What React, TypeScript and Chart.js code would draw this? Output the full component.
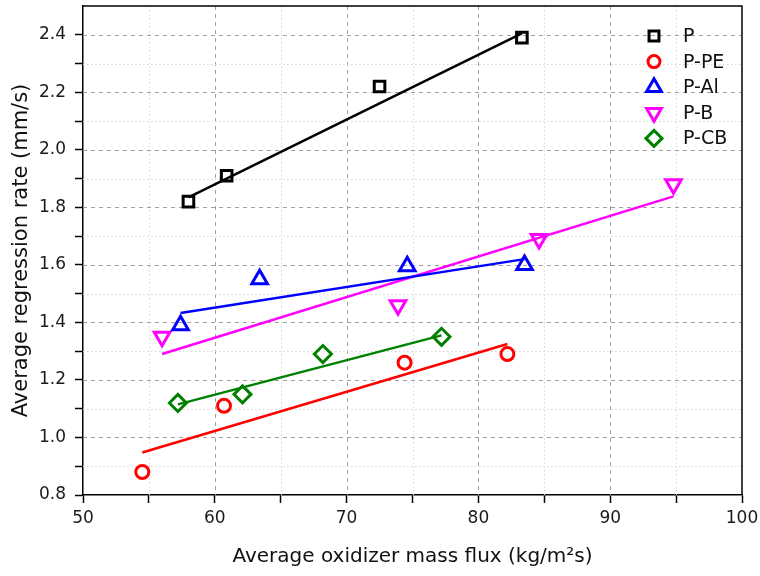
import React, { useEffect, useRef } from 'react';
import { Chart, registerables } from 'chart.js';
import { drawPoint } from 'chart.js/helpers';

Chart.register(...registerables);

// ---- Data ----
const seriesNames = ['P', 'P-PE', 'P-Al', 'P-B', 'P-CB'];
const seriesColors = ['#000000', '#ff0000', '#0000ff', '#ff00ff', '#008000'];

const pFlux = [58.0, 60.9, 72.5, 83.3];
const pRate = [1.82, 1.91, 2.22, 2.39];
const pFitFlux = [58.0, 83.3];
const pFitRate = [1.835, 2.405];

const peFlux = [54.5, 60.7, 74.4, 82.2];
const peRate = [0.88, 1.11, 1.26, 1.29];
const peFitFlux = [54.5, 82.2];
const peFitRate = [0.948, 1.325];

const alFlux = [57.4, 63.4, 74.6, 83.5];
const alRate = [1.39, 1.55, 1.595, 1.6];
const alFitFlux = [57.4, 83.5];
const alFitRate = [1.433, 1.62];

const bFlux = [56.0, 73.9, 84.6, 94.8];
const bRate = [1.35, 1.46, 1.69, 1.88];
const bFitFlux = [56.0, 94.8];
const bFitRate = [1.29, 1.838];

const cbFlux = [57.2, 62.1, 68.2, 77.2];
const cbRate = [1.12, 1.15, 1.29, 1.35];
const cbFitFlux = [57.2, 77.2];
const cbFitRate = [1.115, 1.355];

const X_MIN = 50;
const X_MAX = 100;
const Y_MIN = 0.8;
const Y_MAX = 2.5;

const xTitle = 'Average oxidizer mass flux (kg/m\u00B2s)';
const yTitle = 'Average regression rate (mm/s)';

const FONT = '"DejaVu Sans", "Liberation Sans", Arial, sans-serif';

const pts = (xs: number[], ys: number[]) => xs.map((x, i) => ({ x, y: ys[i] }));

const pointStyles: any[] = ['rect', 'circle', 'triangle', 'triangle', 'rectRot'];
const pointRotations = [0, 0, 0, 180, 0];
const pointRadii = [7.5, 6.5, 9, 9, 8.5];

const gridPlugin = {
  id: 'customGrid',
  beforeDatasetsDraw(chart: any) {
    const { ctx, chartArea: a, scales } = chart;
    const x = scales.x;
    const y = scales.y;
    ctx.save();
    ctx.lineWidth = 1;
    x.ticks.forEach((t: any) => {
      const v = t.value;
      if (v <= X_MIN + 1e-6 || v >= X_MAX - 1e-6) return;
      const major = Math.round(v) % 10 === 0;
      ctx.strokeStyle = major ? '#a0a0a0' : '#d4d4d4';
      ctx.setLineDash(major ? [4, 4] : [1.5, 2.5]);
      const px = Math.round(x.getPixelForValue(v)) + 0.5;
      ctx.beginPath();
      ctx.moveTo(px, a.top);
      ctx.lineTo(px, a.bottom);
      ctx.stroke();
    });
    y.ticks.forEach((t: any) => {
      const v = t.value;
      if (v <= Y_MIN + 1e-6 || v >= Y_MAX - 1e-6) return;
      const major = Math.round(v * 10) % 2 === 0;
      ctx.strokeStyle = major ? '#a0a0a0' : '#d4d4d4';
      ctx.setLineDash(major ? [4, 4] : [1.5, 2.5]);
      const py = Math.round(y.getPixelForValue(v)) + 0.5;
      ctx.beginPath();
      ctx.moveTo(a.left, py);
      ctx.lineTo(a.right, py);
      ctx.stroke();
    });
    ctx.restore();
  },
  afterDraw(chart: any) {
    const { ctx, chartArea: a } = chart;
    ctx.save();
    ctx.strokeStyle = '#000';
    ctx.lineWidth = 1.5;
    ctx.setLineDash([]);
    ctx.beginPath();
    ctx.moveTo(a.left, a.top);
    ctx.lineTo(a.right, a.top);
    ctx.lineTo(a.right, a.bottom);
    ctx.stroke();

    // legend
    const lx = 654;
    const tx = 683;
    const top = 36;
    const step = 25.6;
    ctx.font = `19px ${FONT}`;
    ctx.textBaseline = 'middle';
    ctx.textAlign = 'left';
    seriesNames.forEach((name, i) => {
      const yy = top + i * step;
      ctx.strokeStyle = seriesColors[i];
      ctx.fillStyle = 'rgba(0,0,0,0)';
      ctx.lineWidth = 3;
      drawPoint(ctx, {
        pointStyle: pointStyles[i],
        rotation: pointRotations[i],
        radius: pointRadii[i] - 0.5,
        borderWidth: 3,
      } as any, lx, yy);
      ctx.fillStyle = '#111';
      ctx.fillText(name, tx, yy + 1);
    });
    ctx.restore();
  },
};

export default function App() {
  const canvasRef = useRef<HTMLCanvasElement | null>(null);

  useEffect(() => {
    const canvas = canvasRef.current;
    if (!canvas) return;
    Chart.defaults.font.family = FONT;

    const scatterData = [
      pts(pFlux, pRate),
      pts(peFlux, peRate),
      pts(alFlux, alRate),
      pts(bFlux, bRate),
      pts(cbFlux, cbRate),
    ];
    const fitData = [
      pts(pFitFlux, pFitRate),
      pts(peFitFlux, peFitRate),
      pts(alFitFlux, alFitRate),
      pts(bFitFlux, bFitRate),
      pts(cbFitFlux, cbFitRate),
    ];

    const datasets: any[] = [];
    seriesNames.forEach((name, i) => {
      datasets.push({
        label: name,
        data: scatterData[i],
        showLine: false,
        pointStyle: pointStyles[i],
        rotation: pointRotations[i],
        pointRadius: pointRadii[i],
        pointHoverRadius: pointRadii[i],
        pointBorderWidth: 3,
        borderColor: seriesColors[i],
        backgroundColor: 'rgba(0,0,0,0)',
        order: 0,
      });
    });
    seriesNames.forEach((name, i) => {
      datasets.push({
        label: name + ' fit',
        data: fitData[i],
        showLine: true,
        pointRadius: 0,
        borderWidth: 2.5,
        borderColor: seriesColors[i],
        backgroundColor: seriesColors[i],
        order: 1,
      });
    });

    const chart = new Chart(canvas, {
      type: 'scatter',
      data: { datasets },
      plugins: [gridPlugin],
      options: {
        animation: false,
        responsive: true,
        maintainAspectRatio: false,
        layout: { autoPadding: false, padding: { top: 6, right: 18, left: 0, bottom: 0 } },
        plugins: {
          legend: { display: false },
          tooltip: { enabled: false },
        },
        scales: {
          x: {
            type: 'linear',
            min: X_MIN,
            max: X_MAX,
            afterFit: (s: any) => {
              s.height = 81;
              s.paddingLeft = 0;
              s.paddingRight = 0;
            },
            ticks: {
              stepSize: 5,
              autoSkip: false,
              maxRotation: 0,
              padding: 5,
              color: '#1a1a1a',
              font: { size: 17, family: FONT },
              callback: (v: any) => (Math.round(v) % 10 === 0 ? String(Math.round(v)) : ''),
            },
            grid: {
              drawOnChartArea: false,
              drawTicks: true,
              tickLength: 8,
              tickColor: '#000',
              tickWidth: 1.5,
            },
            border: { color: '#000', width: 1.5 },
            title: {
              display: true,
              text: xTitle,
              color: '#111',
              font: { size: 20, family: FONT },
              padding: { top: 7, bottom: 7 },
            },
          },
          y: {
            type: 'linear',
            min: Y_MIN,
            max: Y_MAX,
            afterFit: (s: any) => {
              s.width = 83;
              s.paddingTop = 0;
              s.paddingBottom = 0;
            },
            ticks: {
              stepSize: 0.1,
              autoSkip: false,
              padding: 9,
              color: '#1a1a1a',
              font: { size: 17, family: FONT },
              callback: (v: any) => {
                const k = Math.round(v * 10);
                if (k % 2 !== 0 || k > 24) return '';
                return (k / 10).toFixed(1);
              },
            },
            grid: {
              drawOnChartArea: false,
              drawTicks: true,
              tickLength: 8,
              tickColor: (c: any) => (c.tick && Math.round(c.tick.value * 10) >= 25 ? 'rgba(0,0,0,0)' : '#000'),
              tickWidth: 1.5,
            },
            border: { color: '#000', width: 1.5 },
            title: {
              display: true,
              text: yTitle,
              color: '#111',
              font: { size: 21, family: FONT },
              padding: { top: 9, bottom: 9 },
            },
          },
        },
      } as any,
    });

    return () => {
      chart.destroy();
    };
  }, []);

  return (
    <div style={{ position: 'fixed', left: 0, top: 0, width: 760, height: 576, background: '#fff' }}>
      <canvas ref={canvasRef} />
    </div>
  );
}
